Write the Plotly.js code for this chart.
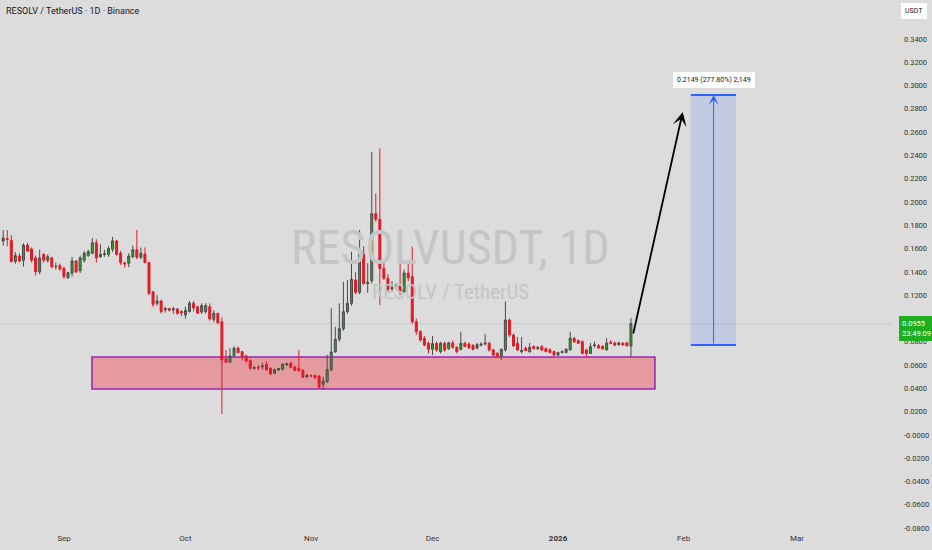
<!DOCTYPE html>
<html>
<head>
<meta charset="utf-8">
<script src="https://cdn.plot.ly/plotly-3.0.1.min.js"></script>
<style>
  html, body { margin: 0; padding: 0; background: #dcdcdc; }
  #chart { width: 932px; height: 550px; }
</style>
</head>
<body>
<div id="chart"></div>
<script>
// daily candles, RESOLV/USDT, starting 2025-08-17
const startDate = '2025-08-17';
const opens = [
  0.1665, 0.1685, 0.1670, 0.1490, 0.1536, 0.1500, 0.1630, 0.1597, 0.1520, 0.1400,
  0.1550, 0.1500, 0.1520, 0.1445, 0.1454, 0.1430, 0.1350, 0.1390, 0.1494, 0.1410,
  0.1500, 0.1540, 0.1560, 0.1650, 0.1530, 0.1550, 0.1550, 0.1594, 0.1666, 0.1560,
  0.1475, 0.1474, 0.1530, 0.1590, 0.1526, 0.1554, 0.1480, 0.1230, 0.1130, 0.1150,
  0.1075, 0.1085, 0.1075, 0.1082, 0.1060, 0.1030, 0.1060, 0.1130, 0.1100, 0.1055,
  0.1060, 0.1100, 0.0993, 0.1044, 0.0972, 0.0652, 0.0624, 0.0680, 0.0744, 0.0715,
  0.0678, 0.0638, 0.0572, 0.0578, 0.0585, 0.0607, 0.0572, 0.0530, 0.0558, 0.0564,
  0.0603, 0.0614, 0.0583, 0.0572, 0.0556, 0.0498, 0.0510, 0.0510, 0.0506, 0.0435,
  0.0457, 0.0560, 0.0712, 0.0822, 0.0912, 0.1058, 0.1130, 0.1330, 0.1225, 0.1550,
  0.1300, 0.1325, 0.1900, 0.1852, 0.1430, 0.1345, 0.1255, 0.1270, 0.1280, 0.1230,
  0.1390, 0.1360, 0.0972, 0.0886, 0.0830, 0.0787, 0.0735, 0.0784, 0.0715, 0.0787,
  0.0740, 0.0790, 0.0752, 0.0735, 0.0787, 0.0780, 0.0769, 0.0746, 0.0770, 0.0780,
  0.0787, 0.0730, 0.0701, 0.0678, 0.0730, 0.0987, 0.0858, 0.0787, 0.0715, 0.0744,
  0.0715, 0.0758, 0.0740, 0.0758, 0.0741, 0.0730, 0.0715, 0.0686, 0.0707, 0.0707,
  0.0730, 0.0830, 0.0810, 0.0801, 0.0730, 0.0700, 0.0765, 0.0765, 0.0760, 0.0730,
  0.0795, 0.0790, 0.0775, 0.0787, 0.0790, 0.0764
];
const highs = [
  0.1760, 0.1760, 0.1717, 0.1570, 0.1560, 0.1646, 0.1650, 0.1610, 0.1540, 0.1590,
  0.1560, 0.1550, 0.1530, 0.1480, 0.1470, 0.1445, 0.1400, 0.1530, 0.1500, 0.1540,
  0.1580, 0.1590, 0.1690, 0.1680, 0.1640, 0.1590, 0.1620, 0.1700, 0.1675, 0.1580,
  0.1490, 0.1560, 0.1625, 0.1760, 0.1610, 0.1610, 0.1480, 0.1230, 0.1200, 0.1160,
  0.1100, 0.1090, 0.1100, 0.1090, 0.1070, 0.1100, 0.1150, 0.1150, 0.1110, 0.1130,
  0.1130, 0.1130, 0.1070, 0.1050, 0.1010, 0.0730, 0.0744, 0.0760, 0.0760, 0.0720,
  0.0690, 0.0650, 0.0590, 0.0600, 0.0620, 0.0630, 0.0580, 0.0570, 0.0575, 0.0615,
  0.0620, 0.0630, 0.0595, 0.0730, 0.0565, 0.0525, 0.0520, 0.0520, 0.0515, 0.0500,
  0.0686, 0.1087, 0.0930, 0.1130, 0.1316, 0.1330, 0.1573, 0.1400, 0.1760, 0.1620,
  0.1474, 0.2430, 0.2075, 0.2460, 0.1480, 0.1380, 0.1320, 0.1300, 0.1490, 0.1420,
  0.1474, 0.1617, 0.1000, 0.0900, 0.0850, 0.0800, 0.0850, 0.0800, 0.0800, 0.0800,
  0.0800, 0.0810, 0.0760, 0.0886, 0.0800, 0.0795, 0.0780, 0.0790, 0.0795, 0.0867,
  0.0800, 0.0740, 0.0710, 0.0740, 0.1144, 0.1000, 0.0870, 0.0840, 0.0840, 0.0760,
  0.0790, 0.0770, 0.0765, 0.0770, 0.0750, 0.0745, 0.0725, 0.0715, 0.0725, 0.0745,
  0.0886, 0.0840, 0.0820, 0.0810, 0.0740, 0.0790, 0.0800, 0.0780, 0.0770, 0.0830,
  0.0815, 0.0800, 0.0800, 0.0795, 0.0800, 0.1004
];
const lows = [
  0.1625, 0.1620, 0.1480, 0.1470, 0.1480, 0.1445, 0.1570, 0.1480, 0.1370, 0.1380,
  0.1480, 0.1480, 0.1430, 0.1420, 0.1410, 0.1340, 0.1340, 0.1360, 0.1390, 0.1390,
  0.1480, 0.1530, 0.1550, 0.1480, 0.1520, 0.1530, 0.1530, 0.1570, 0.1540, 0.1460,
  0.1440, 0.1440, 0.1517, 0.1510, 0.1510, 0.1474, 0.1200, 0.1100, 0.1110, 0.1040,
  0.1050, 0.1060, 0.1040, 0.1030, 0.1020, 0.1000, 0.1050, 0.1060, 0.1040, 0.1040,
  0.1040, 0.0980, 0.0970, 0.0950, 0.0180, 0.0620, 0.0620, 0.0670, 0.0700, 0.0640,
  0.0620, 0.0560, 0.0560, 0.0555, 0.0560, 0.0550, 0.0515, 0.0520, 0.0550, 0.0555,
  0.0590, 0.0570, 0.0550, 0.0545, 0.0490, 0.0490, 0.0495, 0.0485, 0.0400, 0.0386,
  0.0445, 0.0546, 0.0706, 0.0800, 0.0895, 0.1040, 0.1110, 0.1210, 0.1210, 0.1290,
  0.1220, 0.1300, 0.1830, 0.1116, 0.1330, 0.1220, 0.1230, 0.1250, 0.1200, 0.1220,
  0.1320, 0.0950, 0.0860, 0.0800, 0.0760, 0.0700, 0.0686, 0.0715, 0.0700, 0.0715,
  0.0730, 0.0740, 0.0700, 0.0725, 0.0755, 0.0735, 0.0725, 0.0735, 0.0760, 0.0770,
  0.0715, 0.0675, 0.0665, 0.0643, 0.0715, 0.0840, 0.0755, 0.0720, 0.0700, 0.0720,
  0.0705, 0.0735, 0.0730, 0.0720, 0.0710, 0.0700, 0.0675, 0.0680, 0.0700, 0.0700,
  0.0725, 0.0790, 0.0780, 0.0690, 0.0672, 0.0695, 0.0750, 0.0740, 0.0735, 0.0725,
  0.0780, 0.0765, 0.0765, 0.0770, 0.0760, 0.0672
];
const closes = [
  0.1690, 0.1680, 0.1490, 0.1540, 0.1494, 0.1630, 0.1580, 0.1500, 0.1400, 0.1520,
  0.1500, 0.1530, 0.1445, 0.1448, 0.1425, 0.1360, 0.1393, 0.1494, 0.1400, 0.1520,
  0.1560, 0.1573, 0.1650, 0.1520, 0.1550, 0.1556, 0.1600, 0.1666, 0.1550, 0.1480,
  0.1468, 0.1536, 0.1590, 0.1526, 0.1560, 0.1480, 0.1216, 0.1120, 0.1150, 0.1060,
  0.1085, 0.1070, 0.1082, 0.1045, 0.1050, 0.1070, 0.1130, 0.1090, 0.1045, 0.1110,
  0.1110, 0.0996, 0.1044, 0.0964, 0.0643, 0.0624, 0.0678, 0.0744, 0.0706, 0.0672,
  0.0635, 0.0572, 0.0576, 0.0575, 0.0592, 0.0560, 0.0523, 0.0560, 0.0568, 0.0607,
  0.0612, 0.0580, 0.0555, 0.0550, 0.0495, 0.0512, 0.0506, 0.0490, 0.0410, 0.0463,
  0.0560, 0.0712, 0.0822, 0.0912, 0.1058, 0.1130, 0.1336, 0.1225, 0.1550, 0.1300,
  0.1310, 0.1900, 0.1852, 0.1430, 0.1345, 0.1250, 0.1265, 0.1280, 0.1230, 0.1390,
  0.1350, 0.0972, 0.0886, 0.0815, 0.0772, 0.0735, 0.0784, 0.0729, 0.0787, 0.0729,
  0.0790, 0.0752, 0.0715, 0.0787, 0.0760, 0.0750, 0.0735, 0.0775, 0.0780, 0.0790,
  0.0729, 0.0686, 0.0672, 0.0735, 0.0987, 0.0858, 0.0764, 0.0729, 0.0725, 0.0724,
  0.0752, 0.0740, 0.0750, 0.0729, 0.0715, 0.0707, 0.0686, 0.0707, 0.0715, 0.0735,
  0.0830, 0.0800, 0.0787, 0.0700, 0.0700, 0.0758, 0.0772, 0.0746, 0.0738, 0.0787,
  0.0787, 0.0770, 0.0790, 0.0772, 0.0765, 0.0955
];

// support zone and projected move
const zoneLow = 0.0394, zoneHigh = 0.0669;
const zoneStart = '2025-09-07 22:00', zoneEnd = '2026-01-24 22:00';
const targetLow = 0.0772, targetHigh = 0.2919;
const targetStart = '2026-02-02 19:00', targetEnd = '2026-02-13 22:00', targetMid = '2026-02-08 10:00';
const arrowFrom = ['2026-01-19 12:00', 0.0858];
const arrowTo = ['2026-01-31 19:00', 0.2773];
const lastPrice = 0.0955;

const priceTicks = [0.34, 0.32, 0.30, 0.28, 0.26, 0.24, 0.22, 0.20, 0.18, 0.16, 0.14, 0.12, 0.10,
  0.08, 0.06, 0.04, 0.02, 0, -0.02, -0.04, -0.06, -0.08];
const priceTickText = ['0.3400', '0.3200', '0.3000', '0.2800', '0.2600', '0.2400', '0.2200', '0.2000',
  '0.1800', '0.1600', '0.1400', '0.1200', '0.1000', '0.0800', '0.0600', '0.0400', '0.0200', '-0.0000',
  '-0.0200', '-0.0400', '-0.0600', '-0.0800'];
const monthTicks = ['2025-09-01', '2025-10-01', '2025-11-01', '2025-12-01', '2026-01-01', '2026-02-01', '2026-03-01'];
const monthText = ['Sep', 'Oct', 'Nov', 'Dec', '<b>2026</b>', 'Feb', 'Mar'];

// consecutive days for the candles
const dates = [];
const d0 = new Date(startDate + 'T00:00:00Z');
for (let i = 0; i < closes.length; i++) {
  const d = new Date(d0.getTime() + i * 86400000);
  dates.push(d.toISOString().slice(0, 10));
}

const candles = {
  type: 'candlestick',
  x: dates, open: opens, high: highs, low: lows, close: closes,
  increasing: { line: { color: '#4a4a4a', width: 1 }, fillcolor: '#1fae1f' },
  decreasing: { line: { color: '#e21b26', width: 1 }, fillcolor: '#e21b26' },
  whiskerwidth: 0,
  hoverinfo: 'skip'
};

const bg = '#dcdcdc';
const watermarkFont = '"Liberation Sans Narrow", "Roboto Condensed", Roboto, sans-serif';
const layout = {
  width: 932, height: 550,
  paper_bgcolor: bg, plot_bgcolor: bg,
  margin: { t: 0, b: 18, l: 0, r: 39 },
  showlegend: false,
  font: { family: 'Roboto, "Liberation Sans", sans-serif', size: 8, color: '#333' },
  xaxis: {
    type: 'date',
    range: ['2025-08-16 05:00', '2026-03-24 17:00'],
    rangeslider: { visible: false },
    tickvals: monthTicks, ticktext: monthText,
    showgrid: false, zeroline: false, showline: false, ticks: '',
    tickfont: { size: 8, color: '#333' }
  },
  yaxis: {
    side: 'right',
    range: [-0.0834, 0.3735],
    tickvals: priceTicks, ticktext: priceTickText,
    showgrid: false, zeroline: false, showline: false, ticks: '',
    ticklabelstandoff: 10,
    tickfont: { size: 7.5, color: '#333' }
  },
  shapes: [
    { type: 'rect', xref: 'x', yref: 'y', x0: zoneStart, x1: zoneEnd, y0: zoneLow, y1: zoneHigh,
      fillcolor: 'rgba(242,54,69,0.4)', line: { color: '#9c27b0', width: 1.6 }, layer: 'below' },
    { type: 'line', xref: 'paper', yref: 'y', x0: 0, x1: 1, y0: lastPrice, y1: lastPrice,
      line: { color: '#b6d7b4', width: 1 }, layer: 'below' },
    { type: 'rect', xref: 'x', yref: 'y', x0: targetStart, x1: targetEnd, y0: targetLow, y1: targetHigh,
      fillcolor: 'rgba(41,98,255,0.15)', line: { width: 0 } },
    { type: 'line', xref: 'x', yref: 'y', x0: targetStart, x1: targetEnd, y0: targetHigh, y1: targetHigh,
      line: { color: '#2962ff', width: 2 } },
    { type: 'line', xref: 'x', yref: 'y', x0: targetStart, x1: targetEnd, y0: targetLow, y1: targetLow,
      line: { color: '#2962ff', width: 2 } }
  ],
  annotations: [
    { xref: 'paper', yref: 'paper', x: 0.004, y: 0.979, xanchor: 'left', yanchor: 'middle',
      text: 'RESOLV / TetherUS · 1D · Binance', showarrow: false,
      font: { size: 9, color: '#131722' } },
    { xref: 'paper', yref: 'paper', x: 0.504, y: 0.534, xanchor: 'center', yanchor: 'middle',
      text: 'RESOLVUSDT, 1D', showarrow: false,
      font: { family: watermarkFont, size: 48, color: '#c5c5c5' } },
    { xref: 'paper', yref: 'paper', x: 0.504, y: 0.451, xanchor: 'center', yanchor: 'middle',
      text: 'RESOLV / TetherUS', showarrow: false,
      font: { family: watermarkFont, size: 21, color: '#c5c5c5' } },
    // projected move arrow
    { xref: 'x', yref: 'y', axref: 'x', ayref: 'y',
      x: arrowTo[0], y: arrowTo[1], ax: arrowFrom[0], ay: arrowFrom[1],
      showarrow: true, arrowhead: 3, arrowsize: 1.3, arrowwidth: 1.8, arrowcolor: '#000', text: '' },
    { xref: 'x', yref: 'y', axref: 'x', ayref: 'y',
      x: targetMid, y: targetHigh, ax: targetMid, ay: targetLow,
      showarrow: true, arrowhead: 3, arrowsize: 1.6, arrowwidth: 1, arrowcolor: '#2962ff', text: '' },
    { xref: 'x', yref: 'y', x: targetMid, y: targetHigh, yanchor: 'bottom', yshift: 7,
      text: '0.2149 (277.80%) 2,149', showarrow: false,
      bgcolor: '#ffffff', bordercolor: '#ffffff', borderpad: 3,
      font: { size: 7, color: '#131722' } },
    // price label on the axis
    { xref: 'paper', yref: 'y', x: 1.007, y: lastPrice, xanchor: 'left', yanchor: 'middle', yshift: -5,
      text: '0.0955<br>23:49:09', showarrow: false, align: 'left',
      bgcolor: '#1fae1f', bordercolor: '#1fae1f', borderpad: 2,
      font: { size: 7.5, color: '#ffffff' } },
    { xref: 'paper', yref: 'paper', x: 1.009, y: 0.994, xanchor: 'left', yanchor: 'top',
      text: 'USDT', showarrow: false,
      bgcolor: '#ffffff', bordercolor: '#ffffff', borderpad: 3,
      font: { size: 7, color: '#131722' } }
  ]
};

Plotly.newPlot('chart', [candles], layout, { displayModeBar: false, staticPlot: true });
</script>
</body>
</html>
